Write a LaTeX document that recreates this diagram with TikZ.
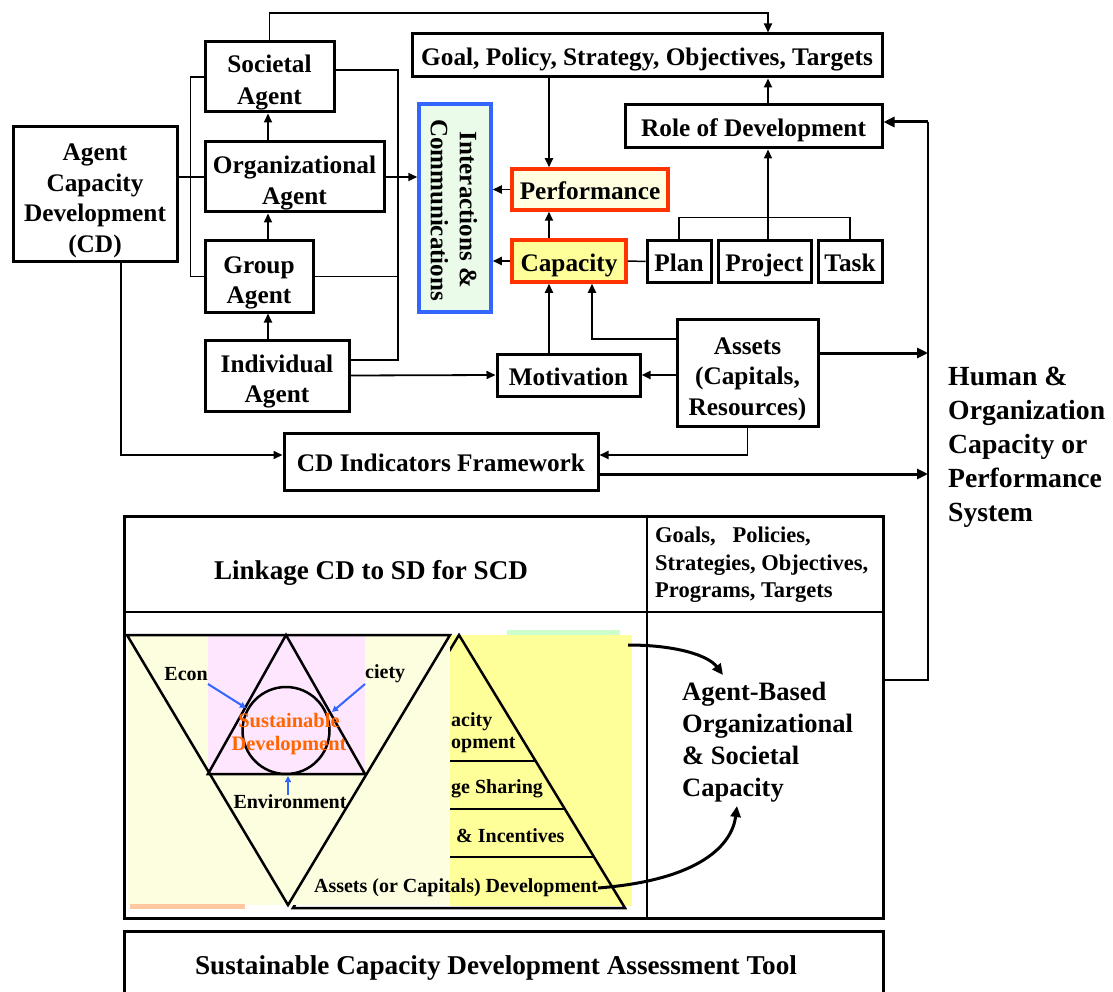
\documentclass[tikz,border=0pt]{standalone}
\usepackage{fontspec}
\setmainfont{Liberation Serif}
\usetikzlibrary{arrows.meta,calc}
\definecolor{perfred}{HTML}{FF3300}
\definecolor{capyellow}{HTML}{FFFF99}
\definecolor{perffill}{HTML}{FFFFE0}
\definecolor{icblue}{HTML}{3366FF}
\definecolor{icgreen}{HTML}{EAFBEA}
\definecolor{paleyellow}{HTML}{FDFDE0}
\definecolor{pinkbg}{HTML}{FFE6FF}
\definecolor{greenstrip}{HTML}{CCFFCC}
\definecolor{salmon}{HTML}{FFC8A0}
\definecolor{sdorange}{HTML}{FF6600}
\newcommand\sstrut{\rule{0pt}{26.5pt}}
\newcommand\mstrut{\rule{0pt}{30pt}}
\newcommand\botstrut{\rule[-6pt]{0pt}{0pt}}
\begin{document}
\begin{tikzpicture}[x=1pt,y=-1pt,
  box/.style={draw, line width=3pt, inner sep=0pt, align=center,
    font=\bfseries\fontsize{25.3}{30.5}\selectfont},
  redbox/.style={box, draw=perfred, line width=3.5pt},
  thinln/.style={line width=1.5pt},
  arr/.style={line width=1.8pt, -{Triangle[length=9pt,width=8pt]}},
  bigarr/.style={line width=3pt, -{Triangle[length=11pt,width=10pt]}},
  bluearr/.style={line width=2pt, draw=icblue, -{Triangle[length=6pt,width=6pt]}},
  lbl/.style={inner sep=0pt, font=\bfseries\fontsize{20}{23}\selectfont},
]
\useasboundingbox (0,0) rectangle (1113,992);

% ---------- upper boxes ----------
\node[box, minimum width=164pt, minimum height=135pt] (acd) at (95,194.5) {\mstrut Agent\\Capacity\\Development\\(CD)\botstrut};
\node[box, minimum width=129pt, minimum height=70pt, font=\bfseries\fontsize{25.3}{32}\selectfont] (soc) at (269.5,77) {\mstrut Societal\\Agent\botstrut};
\node[box, minimum width=179pt, minimum height=70pt] (org) at (294.5,177) {\mstrut Organizational\\Agent\botstrut};
\node[box, minimum width=108pt, minimum height=71pt] (grp) at (259,276.5) {\mstrut Group\\Agent\botstrut};
\node[box, minimum width=144pt, minimum height=71pt] (ind) at (277,375.5) {\mstrut Individual\\Agent\botstrut};
\node[box, draw=icblue, fill=icgreen, line width=3.5pt, minimum width=72pt, minimum height=208pt] (ic) at (455,208) {};
\node[rotate=-90, align=center, inner sep=0pt, font=\bfseries\fontsize{25}{29}\selectfont] (ictext) at (454,210) {Interactions \&\\Communications};
\node[box, minimum width=470pt, minimum height=43pt] (goal) at (647,55.5) {\sstrut Goal, Policy, Strategy, Objectives, Targets\botstrut};
\node[box, minimum width=257pt, minimum height=43pt] (role) at (753.5,126.5) {\sstrut Role of Development\botstrut};
\node[redbox, fill=perffill, minimum width=156pt, minimum height=41pt] (perf) at (590,189.5) {\sstrut Performance\botstrut};
\node[redbox, fill=capyellow, minimum width=114pt, minimum height=42pt] (cap) at (569,261) {\sstrut Capacity\botstrut};
\node[box, minimum width=64pt, minimum height=41pt] (plan) at (679,261.5) {\sstrut Plan\botstrut};
\node[box, minimum width=93pt, minimum height=41pt] (proj) at (764.5,261.5) {\sstrut Project\botstrut};
\node[box, minimum width=64pt, minimum height=41pt] (task) at (850,261.5) {\sstrut Task\botstrut};
\node[box, minimum width=143pt, minimum height=42pt] (mot) at (568.5,375) {\sstrut Motivation\botstrut};
\node[box, minimum width=141pt, minimum height=107pt] (assets) at (747.5,372.5) {\mstrut Assets\\(Capitals,\\Resources)\botstrut};
\node[box, minimum width=314pt, minimum height=57pt] (cdi) at (441,461.5) {\sstrut CD Indicators Framework\botstrut};
\node[anchor=west, align=left, inner sep=0pt, font=\bfseries\fontsize{27.7}{34}\selectfont] (hop) at (948,447) {Human \&\\Organization\\Capacity or\\Performance\\System};

% helper coordinates
\coordinate (xv) at (268,0);
\coordinate (xr) at (768,0);
\coordinate (xp) at (549,0);
\coordinate (ttop) at (268,13);
\coordinate (rb1) at (398,70);
\coordinate (rb2) at (398,360);
\coordinate (a1) at (592,339);
\coordinate (c1) at (121,455);
\coordinate (r1) at (928,122);
\coordinate (r2) at (928,680);
\coordinate (ya) at (0,353);
\coordinate (yc) at (0,474);

% ---------- connectors ----------
\draw[arr] (soc.north) -- (soc.north |- ttop) -| (goal.north -| xr);
\draw[arr] (goal.south -| xp) -- (perf.north -| xp);
\draw[arr] (role.north -| xr) -- (goal.south -| xr);
\draw[arr] (proj.north -| xr) -- (role.south -| xr);
\draw[thinln] (plan.north) -- ++(0,-22) -| (task.north);
\draw[arr] (cap.north -| xp) -- (perf.south -| xp);
\draw[arr] (perf.west) -- (perf.west -| ic.east);
\draw[arr] (cap.west) -- (cap.west -| ic.east);
\draw[thinln] (cap.east) -- (plan.west);
\draw[arr] (org.east) -- (org.east -| ic.west);
\draw[arr] (org.north -| xv) -- (soc.south -| xv);
\draw[arr] (grp.north -| xv) -- (org.south -| xv);
\draw[arr] (ind.north -| xv) -- (grp.south -| xv);
\draw[thinln] (soc.west) -- ++(-13,0) |- (grp.west);
\draw[thinln] (acd.east |- org.west) -- (org.west);
\draw[thinln] (soc.east |- rb1) -- (rb1) -- (rb2) -- (ind.east |- rb2);
\draw[thinln] (grp.east) -- (grp.east -| rb1);
\draw[arr] (ind.east) -- (mot.west);
\draw[arr] (mot.north -| xp) -- (cap.south -| xp);
\draw[arr] (assets.west |- a1) -- (a1) -- (cap.south -| a1);
\draw[arr, line width=2.4pt] (assets.west |- mot.east) -- (mot.east);
\draw[arr] (acd.south -| c1) -- (c1) -- (cdi.west |- c1);
\draw[arr] (assets.south) |- (cdi.east |- c1);
\draw[bigarr] (assets.east |- ya) -- (r1 |- ya);
\draw[bigarr] (cdi.east |- yc) -- (r1 |- yc);

% ---------- table ----------
\node[draw, line width=3pt, minimum width=759pt, minimum height=402pt, inner sep=0pt] (tbl) at (503.5,717) {};
\coordinate (tv) at (647,0);
\coordinate (th) at (0,612);
\draw[line width=2.5pt] (tbl.north -| tv) -- (tbl.south -| tv);
\draw[line width=2.5pt] (tbl.west |- th) -- (tbl.east |- th);
\draw[thinln] (tbl.east |- r2) -- (r2) -- (r1);
\draw[bigarr] (r1) -- (role.east |- r1);
\node[inner sep=0pt, font=\bfseries\fontsize{27.1}{30}\selectfont] (link) at (371,573) {Linkage CD to SD for SCD};
\node[anchor=west, align=left, inner sep=0pt, font=\bfseries\fontsize{22.5}{27.5}\selectfont] (gps) at (655,565) {Goals,\ \ \ Policies,\\Strategies, Objectives,\\Programs, Targets};
\node[anchor=west, align=left, inner sep=0pt, font=\bfseries\fontsize{26.5}{32}\selectfont] (abo) at (682,742) {Agent-Based\\Organizational\\\& Societal\\Capacity};

% ---------- graphic cell ----------
\fill[greenstrip] (507,630) rectangle (620,637);
\fill[capyellow] (450,635) rectangle (632,906);
\draw[line width=2.5pt] (459,635) -- (625,908) -- (293,908) -- cycle;
\draw[line width=2pt] (450,761) -- (535.6,761);
\draw[line width=2pt] (450,809) -- (564.8,809);
\draw[line width=2pt] (450,857) -- (594,857);
\node[lbl, anchor=west] (f1) at (451,722) {acity};
\node[lbl, anchor=west] (f2) at (451,745) {opment};
\node[lbl, anchor=west] (f3) at (451,789) {ge Sharing};
\node[lbl, anchor=west] (f4) at (456,836) {\& Incentives};
\fill[paleyellow] (128,635) rectangle (450,905);
\fill[pinkbg] (208,635) rectangle (365,774);
\draw[line width=2.5pt] (127,635) -- (450,635) -- (288,905) -- cycle;
\draw[line width=2.5pt] (286,635) -- (365,774) -- (208,774) -- cycle;
\draw[line width=2.5pt] (286,730.5) circle (43.5);
\node[lbl, anchor=east] (econ) at (208,674) {Econ};
\node[lbl, anchor=west] (ciety) at (365,674) {ciety};
\node[lbl, align=center, text=sdorange, font=\bfseries\fontsize{20.5}{23}\selectfont] (sd) at (289,734) {Sustainable\\Development};
\node[lbl] (env) at (290,802) {Environment};
\coordinate (b1) at (246,708);
\coordinate (b2) at (332,712);
\coordinate (b3) at (288,776);
\coordinate (e1) at (208,684);
\coordinate (e2) at (365,684);
\draw[bluearr] (econ.south east |- e1) -- (b1);
\draw[bluearr] (ciety.south west |- e2) -- (b2);
\draw[bluearr] (env.north -| b3) -- (b3);
\fill[salmon] (130,904) rectangle (245,909);
\node[lbl] (acdev) at (456,888) {Assets (or Capitals) Development};
\coordinate (cv1) at (628,645);
\coordinate (cv2) at (723,675);
\coordinate (cv3) at (737,806);
\draw[line width=3pt, -{Triangle[length=11pt,width=10pt]}] (cv1) .. controls (675,645) and (708,655) .. (cv2);
\draw[line width=3pt, -{Triangle[length=11pt,width=10pt]}] (acdev.east) .. controls (700,880) and (732,845) .. (cv3);

% ---------- bottom box ----------
\node[draw, line width=3pt, minimum width=759pt, minimum height=90pt, inner sep=0pt] (tool) at (503.5,976) {};
\node[inner sep=0pt, font=\bfseries\fontsize{27.2}{30}\selectfont] (tooltxt) at (496,968) {Sustainable Capacity Development Assessment Tool};
\end{tikzpicture}
\end{document}
